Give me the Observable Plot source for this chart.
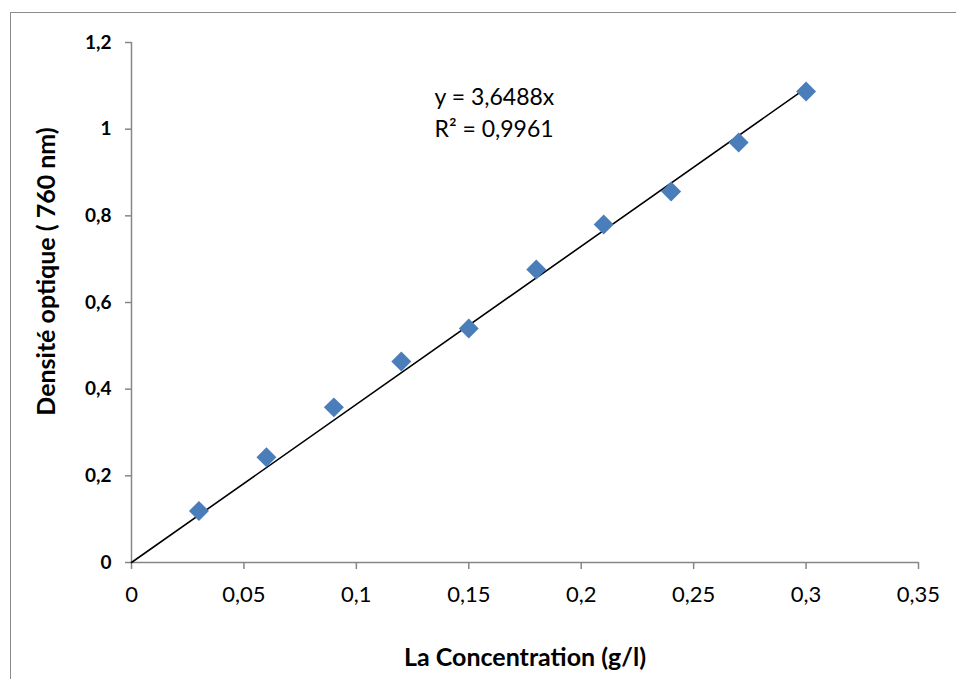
<!DOCTYPE html>
<html>
<head>
<meta charset="utf-8">
<script src="https://cdn.jsdelivr.net/npm/d3@7"></script>
<script src="https://cdn.jsdelivr.net/npm/@observablehq/plot@0.6"></script>
<style>
  html, body { margin: 0; padding: 0; background: #fff; }
  #wrap { position: relative; width: 956px; height: 679px; overflow: hidden; }
  #border { position: absolute; left: 10px; top: 12px; width: 1000px; height: 1000px;
            border-left: 1.5px solid #8c8c8c; border-top: 1.5px solid #8c8c8c; box-sizing: border-box; }
  #chart { position: absolute; left: 0; top: 0; }
</style>
</head>
<body>
<div id="wrap"><div id="border"></div><div id="chart"></div></div>
<script>
// Data
const concentration = [0.03, 0.06, 0.09, 0.12, 0.15, 0.18, 0.21, 0.24, 0.27, 0.30];
const density = [0.119, 0.243, 0.358, 0.464, 0.540, 0.676, 0.780, 0.856, 0.969, 1.087];
const slope = 3.6488;
const equationLabel = "y = 3,6488x";
const r2Label = "R² = 0,9961";
const xTicks = [0, 0.05, 0.1, 0.15, 0.2, 0.25, 0.3, 0.35];
const yTicks = [0, 0.2, 0.4, 0.6, 0.8, 1, 1.2];
const xTitle = "La Concentration (g/l)";
const yTitle = "Densité optique ( 760 nm)";

const points = concentration.map((c, i) => ({x: c, y: density[i]}));
const trend = [0, d3.max(concentration)].map(x => ({x, y: slope * x}));
const fmt = d => String(+d.toFixed(2)).replace(".", ",");

const axisGray = "#868686";
const font = "Lato, 'Open Sans', sans-serif";

const chart = Plot.plot({
  width: 956,
  height: 679,
  marginLeft: 131,
  marginRight: 38,
  marginTop: 42,
  marginBottom: 117,
  style: {fontFamily: font, background: "transparent", color: "black"},
  x: {type: "linear", domain: [0, 0.35]},
  y: {type: "linear", domain: [0, 1.2]},
  marks: [
    Plot.ruleY([0], {stroke: axisGray, strokeWidth: 1.5}),
    Plot.ruleX([0], {stroke: axisGray, strokeWidth: 1.5}),
    Plot.axisY(yTicks, {anchor: "left", tickSize: 6, tickPadding: 14, tickFormat: fmt, label: null,
      stroke: axisGray, strokeWidth: 1.5, fill: "black", fontWeight: "bold", fontSize: 19}),
    Plot.axisX(xTicks, {anchor: "bottom", tickSize: 7, tickPadding: 17, tickFormat: fmt, label: null,
      stroke: axisGray, strokeWidth: 1.5, fill: "black", fontSize: 22}),
    Plot.line(trend, {x: "x", y: "y", stroke: "black", strokeWidth: 1.6}),
    Plot.dot(points, {x: "x", y: "y", symbol: "diamond2", r: 9, fill: "#4a7ebb", stroke: "none"}),
    Plot.text([equationLabel], {frameAnchor: "top-left", dx: 303, dy: 46, textAnchor: "start", fontSize: 23, fill: "black"}),
    Plot.text([r2Label], {frameAnchor: "top-left", dx: 303, dy: 78, textAnchor: "start", fontSize: 23, fill: "black"}),
    Plot.text([xTitle], {frameAnchor: "bottom", dy: 103, textAnchor: "middle", fontSize: 25, fontWeight: "bold", fill: "black"}),
    Plot.text([yTitle], {frameAnchor: "left", dx: -85, dy: -31, textAnchor: "middle", lineAnchor: "middle", rotate: -90, fontSize: 25, fontWeight: "bold", fill: "black"})
  ]
});
document.getElementById("chart").appendChild(chart);
</script>
</body>
</html>
